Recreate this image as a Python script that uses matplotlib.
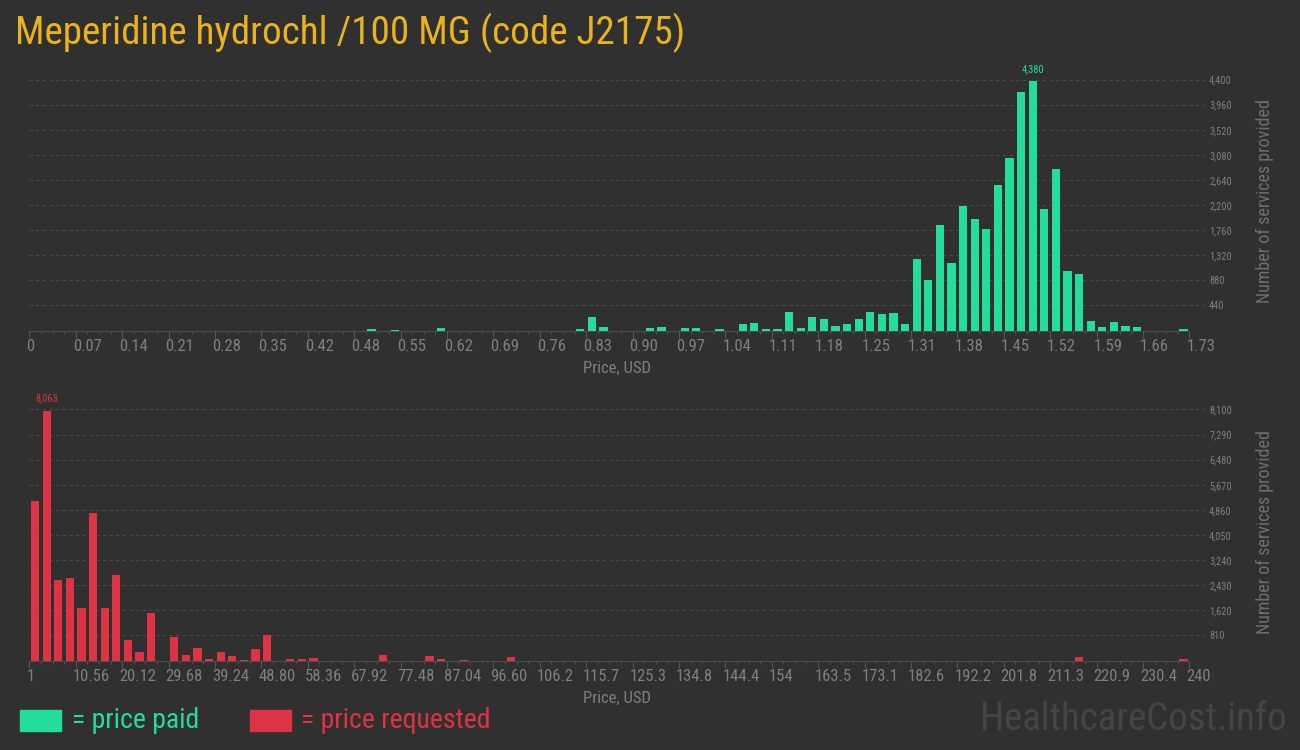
import numpy as np
import matplotlib
matplotlib.use('Agg')
import matplotlib.pyplot as plt
from matplotlib import font_manager
from matplotlib.transforms import ScaledTranslation

# price paid, 100 bins from 0 to 1.73 USD
paid_counts = [
    0, 0, 0, 0, 0, 0, 0, 0, 0, 0,
    0, 0, 0, 0, 0, 0, 0, 0, 0, 0,
    0, 0, 0, 0, 0, 0, 0, 0, 0, 24,
    0, 6, 0, 0, 0, 41, 0, 0, 0, 0,
    0, 0, 0, 0, 0, 0, 0, 24, 235, 59,
    0, 0, 0, 41, 59, 0, 41, 41, 0, 24,
    0, 112, 130, 30, 35, 329, 53, 229, 194, 88,
    106, 194, 329, 282, 311, 123, 1245, 881, 1843, 1180,
    2184, 1949, 1773, 2548, 3024, 4174, 4380, 2125, 2830, 1051,
    998, 170, 65, 153, 82, 65, 0, 0, 0, 18,
]

# price requested, 100 bins from 1 to 240 USD
requested_counts = [
    5145, 8063, 2583, 2648, 1708, 4756, 1708, 2746, 670, 281,
    1546, 0, 767, 184, 411, 54, 281, 151, 22, 378,
    832, 0, 54, 54, 86, 0, 0, 0, 0, 0,
    184, 0, 0, 0, 151, 54, 0, 22, 0, 0,
    0, 119, 0, 0, 0, 0, 0, 0, 0, 0,
    0, 0, 0, 0, 0, 0, 0, 0, 0, 0,
    0, 0, 0, 0, 0, 0, 0, 0, 0, 0,
    0, 0, 0, 0, 0, 0, 0, 0, 0, 0,
    0, 0, 0, 0, 0, 0, 0, 0, 0, 0,
    118, 0, 0, 0, 0, 0, 0, 0, 0, 54,
]

paid_labels = ["0", "0.07", "0.14", "0.21", "0.28", "0.35", "0.42", "0.48", "0.55",
               "0.62", "0.69", "0.76", "0.83", "0.90", "0.97", "1.04", "1.11", "1.18",
               "1.25", "1.31", "1.38", "1.45", "1.52", "1.59", "1.66", "1.73"]
requested_labels = ["1", "10.56", "20.12", "29.68", "39.24", "48.80", "58.36", "67.92",
                    "77.48", "87.04", "96.60", "106.2", "115.7", "125.3", "134.8", "144.4",
                    "154", "163.5", "173.1", "182.6", "192.2", "201.8", "211.3", "220.9",
                    "230.4", "240"]

names = {f.name for f in font_manager.fontManager.ttflist}
font = 'DejaVu Sans'
for cand in ['Roboto Condensed', 'Liberation Sans Narrow']:
    if cand in names:
        font = cand
        break
plt.rcParams['font.family'] = [font, 'DejaVu Sans']

bg = '#303030'
green = '#22dd9b'
red = '#dd3344'
gold = '#e8b31c'
grey = '#7f7f7f'

fig = plt.figure(figsize=(13, 7.5), dpi=100, facecolor=bg)


def draw(ax, lo, hi, counts, labels, color, ytop, ystep):
    counts = np.array(counts)
    edges = np.linspace(lo, hi, len(counts) + 1)
    w = edges[1] - edges[0]
    ax.set_facecolor(bg)
    ax.bar(edges[:-1] + w / 2, counts, width=w * 0.72, color=color, zorder=3)

    span = (hi - lo) / 1160.0
    ax.set_xlim(lo, lo + 1175.7 * span)
    ax.set_ylim(0, ytop)

    for s in ['top', 'right', 'left']:
        ax.spines[s].set_visible(False)
    ax.spines['bottom'].set_color('#4d4d4d')
    ax.spines['bottom'].set_bounds(lo, hi)

    ax.set_xticks(np.linspace(lo, hi, len(labels)))
    ax.set_xticklabels(labels)
    ax.set_xticks(edges, minor=True)
    ax.tick_params(axis='x', which='major', length=5, color='#555555', labelsize=12,
                   labelcolor=grey, pad=1)
    ax.tick_params(axis='x', which='minor', length=2.5, color='#555555')
    off = ScaledTranslation(-3 / 100, 0, fig.dpi_scale_trans)
    for t in ax.get_xticklabels():
        t.set_ha('left')
        t.set_transform(t.get_transform() + off)

    ax.yaxis.tick_right()
    ax.set_yticks(np.arange(1, 11) * ystep)
    ax.set_yticklabels(['{:,}'.format(v) for v in np.arange(1, 11) * ystep])
    ax.tick_params(axis='y', length=0, labelsize=7.5, labelcolor=grey, pad=3)
    ax.grid(axis='y', color='#4a4a4a', linestyle=(0, (3, 3)), linewidth=0.8, zorder=0)

    ax.set_xlabel('Price, USD', color=grey, fontsize=12, labelpad=5)

    k = int(np.argmax(counts))
    ax.annotate('{:,}'.format(counts[k]), (edges[k] + w / 2, counts[k]),
                xytext=(0, 5), textcoords='offset points', ha='center', va='bottom',
                color=color, fontsize=7.5)


ax1 = fig.add_axes([29.3 / 1300, 0.5593, 1175.7 / 1300, 0.3607])
draw(ax1, 0, 1.73, paid_counts, paid_labels, green, 4742, 440)

ax2 = fig.add_axes([29.3 / 1300, 0.1193, 1175.7 / 1300, 0.3607])
draw(ax2, 1, 240, requested_counts, requested_labels, red, 8729, 810)

for yc in [201, 532]:
    fig.text(1265 / 1300, 1 - yc / 750, 'Number of services provided', rotation=90,
             ha='center', va='center', color='#6f6f6f', fontsize=13)

fig.text(15 / 1300, 1 - 33 / 750, 'Meperidine hydrochl /100 MG (code J2175)',
         color=gold, fontsize=28.2, ha='left', va='center')

fig.patches.append(plt.Rectangle((20 / 1300, 1 - 731 / 750), 41 / 1300, 21 / 750,
                                 transform=fig.transFigure, color=green))
fig.text(72 / 1300, 1 - 720 / 750, '= price paid', color=green, fontsize=20,
         ha='left', va='center')
fig.patches.append(plt.Rectangle((250 / 1300, 1 - 731 / 750), 41 / 1300, 21 / 750,
                                 transform=fig.transFigure, color=red))
fig.text(301 / 1300, 1 - 720 / 750, '= price requested', color=red, fontsize=20,
         ha='left', va='center')

fig.text(1287 / 1300, 1 - 720 / 750, 'HealthcareCost.info', color='#454545',
         fontsize=28, ha='right', va='center')

fig.savefig('out.png', dpi=100, facecolor=bg)
